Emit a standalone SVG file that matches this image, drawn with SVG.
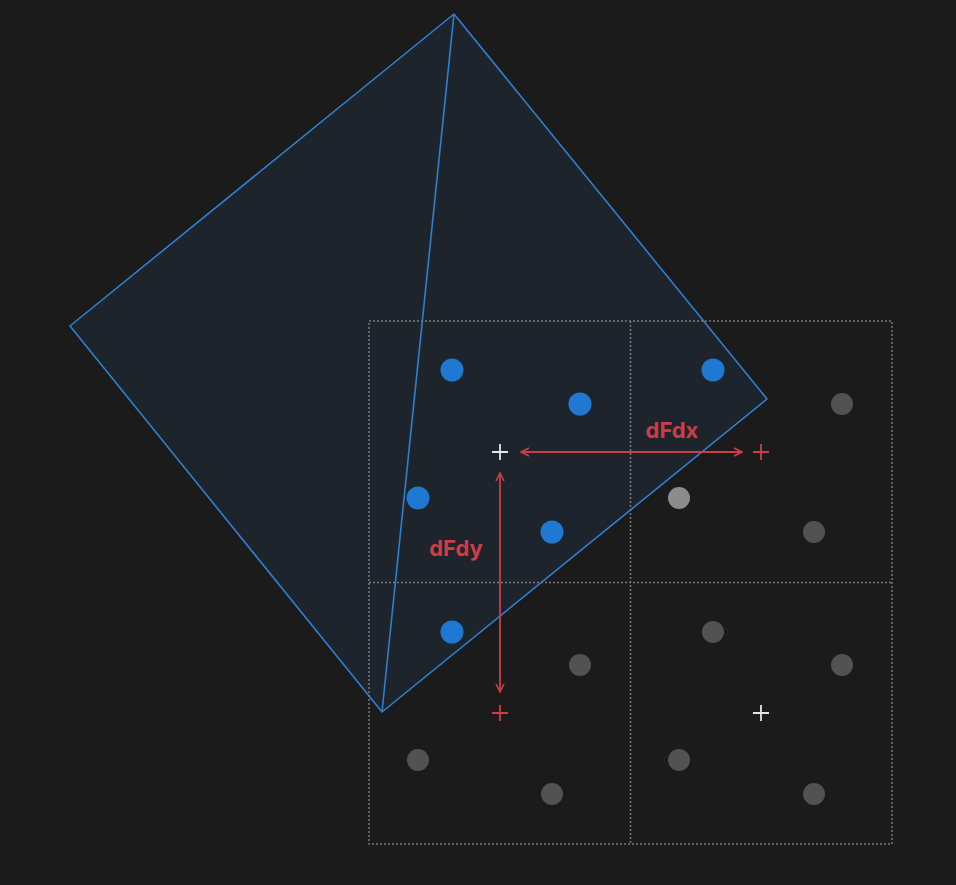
<svg xmlns="http://www.w3.org/2000/svg" width="956" height="885" viewBox="0 0 956 885">
<style>
.grid{fill:none;stroke:#7a7a7a;stroke-width:1.5;stroke-dasharray:2 2}
.tri{fill:#1d242c;stroke:#2f7fd0;stroke-width:1.6;stroke-linejoin:round}
.edge{stroke:#2f7fd0;stroke-width:1.6;fill:none}
.blue{fill:#1f78d1}
.gray{fill:#525252}
.light{fill:#8c8c8c}
.red{stroke:#cc3d47;stroke-width:1.8;fill:none}
.white{stroke:#e6e6e6;stroke-width:1.8;fill:none}
.lbl{font-family:Inter,"Liberation Sans",sans-serif;font-weight:700;font-size:22px;fill:#cc3d47}
</style>
<defs>
<marker id="ah" viewBox="0 0 10 10" refX="9" refY="5" markerWidth="10" markerHeight="10" markerUnits="userSpaceOnUse" orient="auto-start-reverse">
<path d="M1,1 L9,5 L1,9" fill="none" stroke="#cc3d47" stroke-width="1.6"/>
</marker>
</defs>
<rect width="956" height="885" fill="#1b1b1b"/>
<g id="triangles">
<polygon class="tri" points="454,14 70,326 382,712 767,399"/>
<line class="edge" x1="454" y1="14" x2="382" y2="712"/>
</g>
<g id="grid">
<rect class="grid" x="369" y="321" width="523" height="523"/>
<line class="grid" x1="630.5" y1="321" x2="630.5" y2="844"/>
<line class="grid" x1="369" y1="582.5" x2="892" y2="582.5"/>
</g>
<g id="samples">
<circle class="blue" cx="452" cy="370" r="11.5"/>
<circle class="blue" cx="580" cy="404" r="11.5"/>
<circle class="blue" cx="418" cy="498" r="11.5"/>
<circle class="blue" cx="552" cy="532" r="11.5"/>
<circle class="blue" cx="452" cy="632" r="11.5"/>
<circle class="blue" cx="713" cy="370" r="11.5"/>
<circle class="gray" cx="842" cy="404" r="11"/>
<circle class="light" cx="679" cy="498" r="11"/>
<circle class="gray" cx="814" cy="532" r="11"/>
<circle class="gray" cx="713" cy="632" r="11"/>
<circle class="gray" cx="842" cy="665" r="11"/>
<circle class="gray" cx="580" cy="665" r="11"/>
<circle class="gray" cx="418" cy="760" r="11"/>
<circle class="gray" cx="552" cy="794" r="11"/>
<circle class="gray" cx="679" cy="760" r="11"/>
<circle class="gray" cx="814" cy="794" r="11"/>
</g>
<g id="centers">
<path class="white" d="M492,452 H508 M500,444 V460"/>
<path class="white" d="M753,713 H769 M761,705 V721"/>
<path class="red" d="M753,452 H769 M761,444 V460"/>
<path class="red" d="M492,713 H508 M500,705 V721"/>
</g>
<g id="connectors">
<line class="red" x1="521" y1="452" x2="742" y2="452" marker-start="url(#ah)" marker-end="url(#ah)"/>
<line class="red" x1="500" y1="473" x2="500" y2="692" marker-start="url(#ah)" marker-end="url(#ah)"/>
</g>
<g id="labels">
<text class="lbl" x="672" y="438" text-anchor="middle">dFdx</text>
<text class="lbl" x="456" y="556" text-anchor="middle">dFdy</text>
</g>
</svg>
